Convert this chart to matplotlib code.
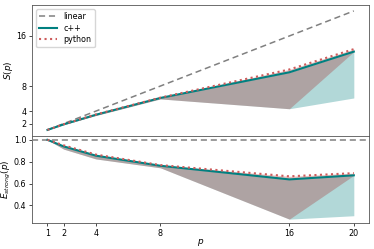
import matplotlib
matplotlib.use("Agg")
import matplotlib.pyplot as plt
import numpy as np

p = np.array([1, 2, 4, 8, 16, 20])

# speedup S(p)
cpp_speedup = np.array([1.0, 1.88, 3.42, 6.10, 10.20, 13.50])
cpp_low = np.array([1.0, 1.83, 3.30, 5.95, 4.38, 6.10])
py_speedup = np.array([1.0, 1.90, 3.46, 6.15, 10.65, 13.90])
py_low = np.array([1.0, 1.83, 3.30, 5.95, 4.38, 13.50])

xticks = [1, 2, 4, 8, 16, 20]
s_ticks = [2, 4, 8, 16]
e_ticks = [0.4, 0.6, 0.8, 1.0]

teal = "teal"
red = "indianred"
grey = "grey"
fs = 5.8
lab_fs = 6.4

plt.rcParams["font.size"] = fs
plt.rcParams["axes.linewidth"] = 0.6
plt.rcParams["axes.edgecolor"] = "#555555"
plt.rcParams["xtick.major.width"] = 0.5
plt.rcParams["ytick.major.width"] = 0.5
plt.rcParams["xtick.major.size"] = 2.2
plt.rcParams["ytick.major.size"] = 2.2
plt.rcParams["xtick.major.pad"] = 2
plt.rcParams["ytick.major.pad"] = 2

fig, (ax1, ax2) = plt.subplots(2, 1, sharex=True, figsize=(3.74, 2.49), dpi=100,
                               gridspec_kw={"height_ratios": [3, 2], "hspace": 0})
fig.subplots_adjust(left=0.086, right=0.987, top=0.98, bottom=0.104)

# speedup
ax1.plot(p, p, "--", color=grey, lw=1.1, dashes=(4, 2.5), label="linear", zorder=3)
ax1.fill_between(p, cpp_low, cpp_speedup, color=teal, alpha=0.3, lw=0)
ax1.fill_between(p, py_low, py_speedup, color="brown", alpha=0.3, lw=0)
ax1.plot(p, cpp_speedup, "-", color=teal, lw=1.5, label="c++", zorder=4)
ax1.plot(p, py_speedup, ":", color=red, lw=1.5, label="python", zorder=5)
ax1.set_yticks(s_ticks)
ax1.set_ylabel("$S(p)$", fontsize=lab_fs)
ax1.yaxis.set_label_coords(-0.05, 0.5)
ax1.legend(loc="upper left", fontsize=fs, handlelength=2.2, borderpad=0.4,
           labelspacing=0.3, framealpha=0.8)

# efficiency
ax2.axhline(1.0, color=grey, lw=1.1, dashes=(4, 2.5), zorder=3)
ax2.fill_between(p, cpp_low / p, cpp_speedup / p, color=teal, alpha=0.3, lw=0)
ax2.fill_between(p, py_low / p, py_speedup / p, color="brown", alpha=0.3, lw=0)
ax2.plot(p, cpp_speedup / p, "-", color=teal, lw=1.5, zorder=4)
ax2.plot(p, py_speedup / p, ":", color=red, lw=1.5, zorder=5)
ax2.set_yticks(e_ticks)
ax2.set_ylabel("$E_{strong}(p)$", fontsize=lab_fs)
ax2.yaxis.set_label_coords(-0.057, 0.5)
ax2.set_xticks(xticks)
ax2.set_xlabel("$p$", fontsize=lab_fs)
ax2.xaxis.set_label_coords(0.5, -0.16)

fig.savefig("out.png", dpi=100)
